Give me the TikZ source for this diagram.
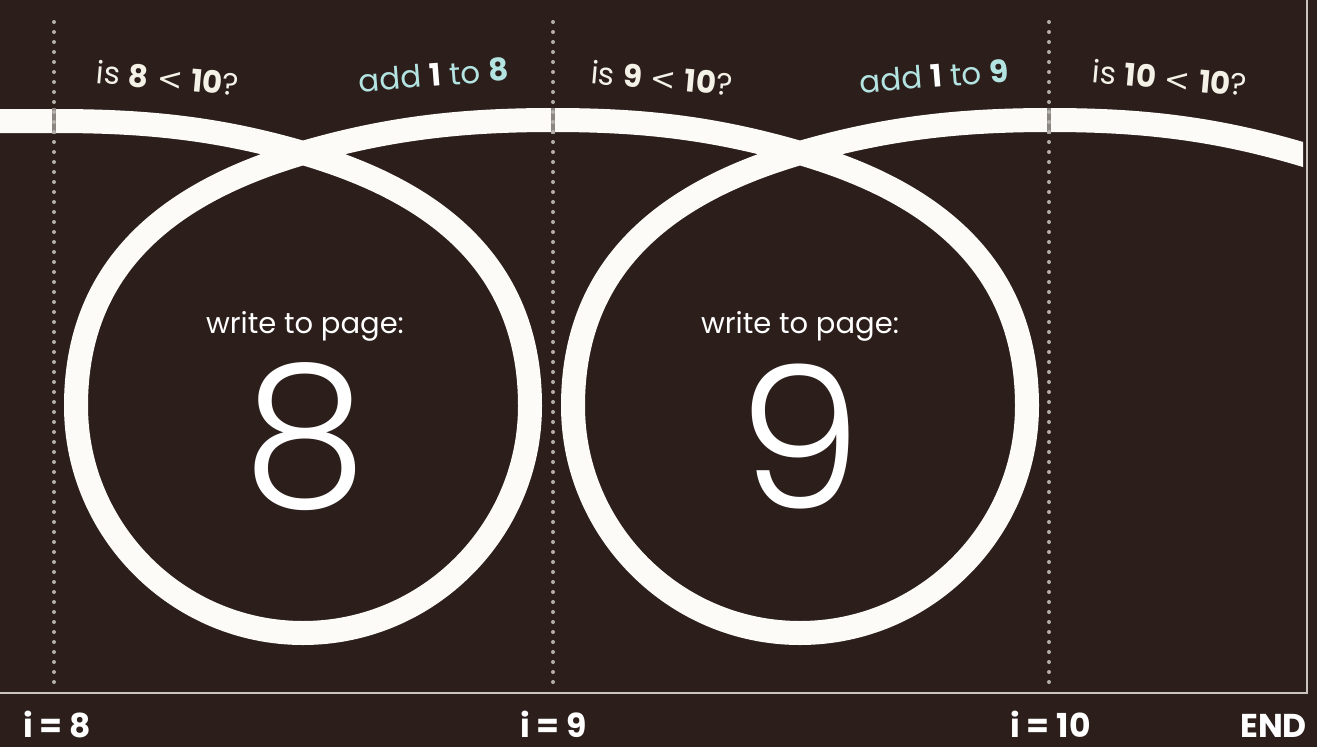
\documentclass[tikz,border=0pt]{standalone}
\usepackage{fontspec}
\setmainfont{Poppins}
\newfontfamily\thinfont{Poppins Light}
\newfontfamily\symfont{DejaVu Sans}
\newcommand{\lessthan}{{\symfont\char"003C}}
\definecolor{bg}{HTML}{2B1E1B}
\definecolor{trackc}{HTML}{FCFBF7}
\definecolor{dotc}{HTML}{B5AFAA}
\definecolor{stripc}{HTML}{8C8682}
\definecolor{rulec}{HTML}{C9C4BF}
\definecolor{cream}{HTML}{F4F1E6}
\definecolor{cyanish}{HTML}{B4E4E1}
\begin{document}
\begin{tikzpicture}[x=1pt,y=-1pt,
  trackline/.style={draw=trackc, line width=24pt},
  dotline/.style={draw=dotc, line width=4pt, line cap=round, dash pattern=on 0pt off 10pt},
  stripline/.style={draw=stripc, line width=4pt},
  ruleline/.style={draw=rulec, line width=1.8pt},
  qlabel/.style={text=cream, font=\fontsize{31}{34}\selectfont, inner sep=0pt},
  alabel/.style={text=cyanish, font=\fontsize{31}{34}\selectfont, inner sep=0pt},
  ilabel/.style={text=white, font=\fontsize{33}{36}\selectfont\bfseries, inner sep=0pt},
  wlabel/.style={text=white, font=\fontsize{29}{32}\selectfont, inner sep=0pt},
  biglabel/.style={text=white, font=\fontsize{198}{200}\thinfont, inner sep=0pt}
]
\fill[bg] (0,0) rectangle (1317,747);
\useasboundingbox (0,0) rectangle (1317,747);

% the white track with its two loops
\begin{scope}
\clip (0,0) rectangle (1303,747);
\draw[trackline] (-5,121) -- (55,121)
  .. controls (145,121) and (217,128) .. (303,153)
  .. controls (437,192) and (530,266) .. (530,406)
  .. controls (530,531) and (428,633) .. (303,633)
  .. controls (178,633) and (76,531) .. (76,406)
  .. controls (76,266) and (169,192) .. (303,153)
  .. controls (389,128) and (463,120) .. (553,120)
  .. controls (643,120) and (714,128) .. (800,153)
  .. controls (934,192) and (1027,266) .. (1027,406)
  .. controls (1027,531) and (925,633) .. (800,633)
  .. controls (675,633) and (573,531) .. (573,406)
  .. controls (573,266) and (666,192) .. (800,153)
  .. controls (886,128) and (960,120) .. (1050,120)
  .. controls (1140,120) and (1212,128) .. (1298,153)
  -- (1318,159);
\end{scope}

% dotted step lines
\foreach \x in {54,553,1049} {
  \draw[stripline] (\x,108) -- (\x,134);
  \draw[dotline] (\x,22) -- (\x,686);
}

% frame rules
\draw[ruleline] (0,693) -- (1307,693) -- (1307,0);

% questions and increments
\node[qlabel, rotate=-5] (q1) at (168,78) {is \textbf{8} \lessthan{} \textbf{10}?};
\node[alabel, rotate=4.5] (a1) at (434,75) {add {\color{white}\textbf{1}} to \textbf{8}};
\node[qlabel, rotate=-5] (q2) at (662,78) {is \textbf{9} \lessthan{} \textbf{10}?};
\node[alabel, rotate=4.5] (a2) at (934,76) {add {\color{white}\textbf{1}} to \textbf{9}};
\node[qlabel, rotate=-5] (q3) at (1170,78) {is \textbf{10} \lessthan{} \textbf{10}?};

% loop contents
\node[wlabel, anchor=base] (w1) at (305,333) {write to page:};
\node[biglabel] (n1) at (305,437) {8};
\node[wlabel, anchor=base] (w2) at (800,333) {write to page:};
\node[biglabel] (n2) at (800,437) {9};

% bottom labels
\node[ilabel, anchor=base west] (i1) at (23,737) {i = 8};
\node[ilabel, anchor=base west] (i2) at (520,737) {i = 9};
\node[ilabel, anchor=base west] (i3) at (1010,737) {i = 10};
\node[ilabel, anchor=base east] (e) at (1307,737) {END};
\end{tikzpicture}
\end{document}
